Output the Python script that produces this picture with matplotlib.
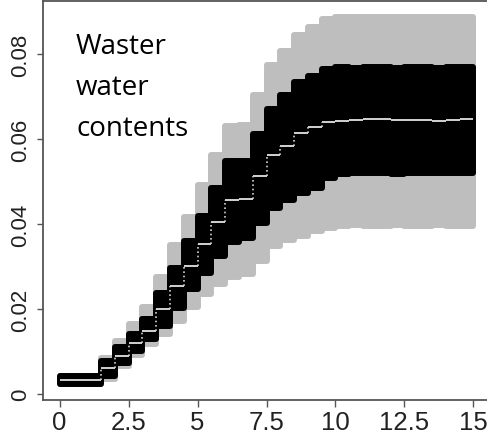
import matplotlib.pyplot as plt
import numpy as np

# step breakpoints (hours)
t = [0, 1.5, 2, 2.5, 3, 3.5, 4, 4.5, 5, 5.5, 6, 6.5, 7, 7.5, 8, 8.5,
     9, 9.5, 10, 10.5, 11, 11.5, 12, 12.5, 13, 13.5, 14, 14.5, 15]

# one value per step interval
median = [0.0034, 0.0061, 0.0090, 0.0121, 0.0149, 0.0200, 0.0254, 0.0301,
          0.0354, 0.0405, 0.0457, 0.0460, 0.0513, 0.0563, 0.0583, 0.0614,
          0.0628, 0.0641, 0.0643, 0.0646, 0.0647, 0.0647, 0.0645, 0.0644,
          0.0646, 0.0643, 0.0646, 0.0647]
inner_hi = [0.0049, 0.0084, 0.0118, 0.0149, 0.0184, 0.0245, 0.0303, 0.0368,
            0.0427, 0.0493, 0.0555, 0.0556, 0.0618, 0.0678, 0.0710, 0.0742,
            0.0756, 0.0773, 0.0776, 0.0775, 0.0777, 0.0776, 0.0775, 0.0777,
            0.0776, 0.0775, 0.0776, 0.0776]
inner_lo = [0.0016, 0.0035, 0.0067, 0.0094, 0.0122, 0.0153, 0.0196, 0.0240,
            0.0278, 0.0318, 0.0352, 0.0360, 0.0395, 0.0430, 0.0450, 0.0465,
            0.0478, 0.0502, 0.0512, 0.0514, 0.0513, 0.0514, 0.0512, 0.0513,
            0.0514, 0.0513, 0.0514, 0.0513]
outer_hi = [0.0049, 0.0092, 0.0133, 0.0171, 0.0212, 0.0282, 0.0357, 0.0424,
            0.0498, 0.0569, 0.0639, 0.0640, 0.0711, 0.0782, 0.0815, 0.0851,
            0.0871, 0.0889, 0.0894, 0.0895, 0.0894, 0.0894, 0.0895, 0.0894,
            0.0894, 0.0895, 0.0894, 0.0894]
outer_lo = [0.0016, 0.0028, 0.0059, 0.0086, 0.0110, 0.0135, 0.0165, 0.0198,
            0.0228, 0.0252, 0.0268, 0.0276, 0.0306, 0.0341, 0.0355, 0.0365,
            0.0376, 0.0384, 0.0389, 0.0390, 0.0389, 0.0389, 0.0390, 0.0389,
            0.0389, 0.0390, 0.0389, 0.0389]

xticks = [0, 2.5, 5, 7.5, 10, 12.5, 15]
xticklabels = ['0', '2.5', '5', '7.5', '10', '12.5', '15']
yticks = [0, 0.02, 0.04, 0.06, 0.08]
yticklabels = ['0', '0.02', '0.04', '0.06', '0.08']

tick_font = ['Liberation Sans Narrow', 'Liberation Sans', 'DejaVu Sans']

fig = plt.figure(figsize=(4.87, 4.39), dpi=100)
ax = fig.add_axes([43/487, 38/439, 447/487, 399/439])

pad = 0.0007  # half the pen width, in data units
lw_pen = 4.3


def ext(v):
    return np.r_[v, v[-1]]


ax.fill_between(t, ext(outer_lo) + pad, ext(outer_hi) - pad, step='post',
                facecolor='#bebebe', edgecolor='#bebebe', lw=lw_pen,
                joinstyle='round')
ax.fill_between(t, ext(inner_lo) + pad, ext(inner_hi) - pad, step='post',
                facecolor='black', edgecolor='black', lw=lw_pen,
                joinstyle='round')

med = np.array(median)
ax.hlines(med, t[:-1], t[1:], color='#d2d2d2', lw=1.4)
ax.vlines(t[1:-1], med[:-1], med[1:], color='#d2d2d2', lw=1.2,
          linestyles=(0, (1, 1.6)))

ax.set_xlim(-0.6, 15.6)
ax.set_ylim(-0.0014, 0.0925)

ax.set_xticks(xticks)
ax.set_xticklabels(xticklabels, family=tick_font, fontsize=18.5)
ax.set_yticks(yticks)
ax.set_yticklabels(yticklabels, family=tick_font, fontsize=16,
                   rotation=90, va='center')
ax.tick_params(axis='x', length=5, width=1, color='#555555', pad=2.5,
               labelcolor='#222222')
ax.tick_params(axis='y', length=4, width=1, color='#555555', pad=4.5,
               labelcolor='#222222')

for side in ['left', 'bottom', 'top']:
    ax.spines[side].set_color('#555555')
    ax.spines[side].set_linewidth(1.3)
ax.spines['right'].set_visible(False)

fig.text(76/487, 1 - 33/439, 'Waster\nwater\ncontents',
         family=['Open Sans', 'DejaVu Sans'], fontsize=20, va='top',
         ha='left', linespacing=1.62, color='black')

fig.savefig('out.png', dpi=100)
